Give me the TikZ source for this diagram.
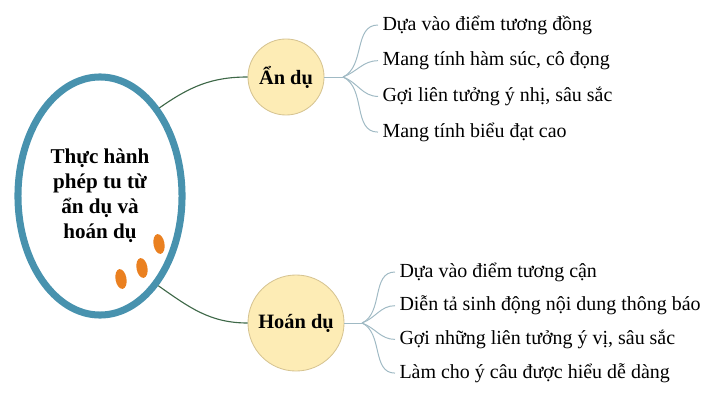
\documentclass[tikz,border=0pt]{standalone}
\usepackage{fontspec}
\setmainfont{Liberation Serif}
\usetikzlibrary{shapes.geometric,positioning,calc}

\definecolor{rimblue}{RGB}{72,146,174}
\definecolor{bubble}{RGB}{253,236,181}
\definecolor{bubbleline}{RGB}{214,196,146}
\definecolor{dotorange}{RGB}{234,128,32}
\definecolor{stemgreen}{RGB}{62,104,72}
\definecolor{twig}{RGB}{160,186,196}

\tikzset{
  topic/.style={circle, draw=bubbleline, fill=bubble, line width=0.6pt, inner sep=0pt,
    font=\fontsize{14.5}{17}\selectfont\bfseries},
  leaf/.style={anchor=west, inner sep=3pt, font=\fontsize{14.2}{16}\selectfont},
  stem/.style={draw=stemgreen, line width=0.8pt},
  twigline/.style={draw=twig, line width=0.7pt},
}

\begin{document}
\begin{tikzpicture}[x=0.025cm, y=-0.025cm]
    \useasboundingbox (0,0) rectangle (720,400);

    % Central ellipse
    \node[ellipse, draw=rimblue, line width=5pt, minimum width=4.1cm, minimum height=5.95cm,
      align=center, font=\fontsize{15}{17.7}\selectfont\bfseries] (main) at (100,196)
      {Thực hành\\phép tu từ\\ẩn dụ và\\hoán dụ};
    \fill[dotorange, rotate around={10:(159,244)}] (159,244) ellipse (5.5 and 10);
    \fill[dotorange, rotate around={10:(142,268)}] (142,268) ellipse (5.5 and 10);
    \fill[dotorange, rotate around={10:(121,279)}] (121,279) ellipse (5.5 and 10);

    % Topics
    \node[topic, minimum size=1.9cm] (an) at (286,77) {Ẩn dụ};
    \node[topic, minimum size=2.4cm] (hoan) at (296,323) {Hoán dụ};
    \draw[stem] (main.56) to[out=35,in=180] (an.west);
    \draw[stem] (main.-57) to[out=-35,in=180] (hoan.west);

    % Ẩn dụ branches
    \coordinate (anfork) at (343,77);
    \draw[twigline] (an.east) -- (anfork);
    \foreach \txt/\bend [count=\i] in {{Dựa vào điểm tương đồng}/25,
        {Mang tính hàm súc, cô đọng}/20, {Gợi liên tưởng ý nhị, sâu sắc}/-20,
        {Mang tính biểu đạt cao}/-25} {
      \node[leaf] (an-\i) at (378,{25+35.7*(\i-1)}) {\txt};
      \draw[twigline] (anfork) to[out=\bend,in=180] (an-\i.west);
    }

    % Hoán dụ branches
    \coordinate (hoanfork) at (362,323);
    \draw[twigline] (hoan.east) -- (hoanfork);
    \foreach \txt/\bend [count=\i] in {{Dựa vào điểm tương cận}/25,
        {Diễn tả sinh động nội dung thông báo}/20, {Gợi những liên tưởng ý vị, sâu sắc}/-20,
        {Làm cho ý câu được hiểu dễ dàng}/-25} {
      \node[leaf] (hoan-\i) at (395,{272+33.7*(\i-1)}) {\txt};
      \draw[twigline] (hoanfork) to[out=\bend,in=180] (hoan-\i.west);
    }
\end{tikzpicture}
\end{document}
